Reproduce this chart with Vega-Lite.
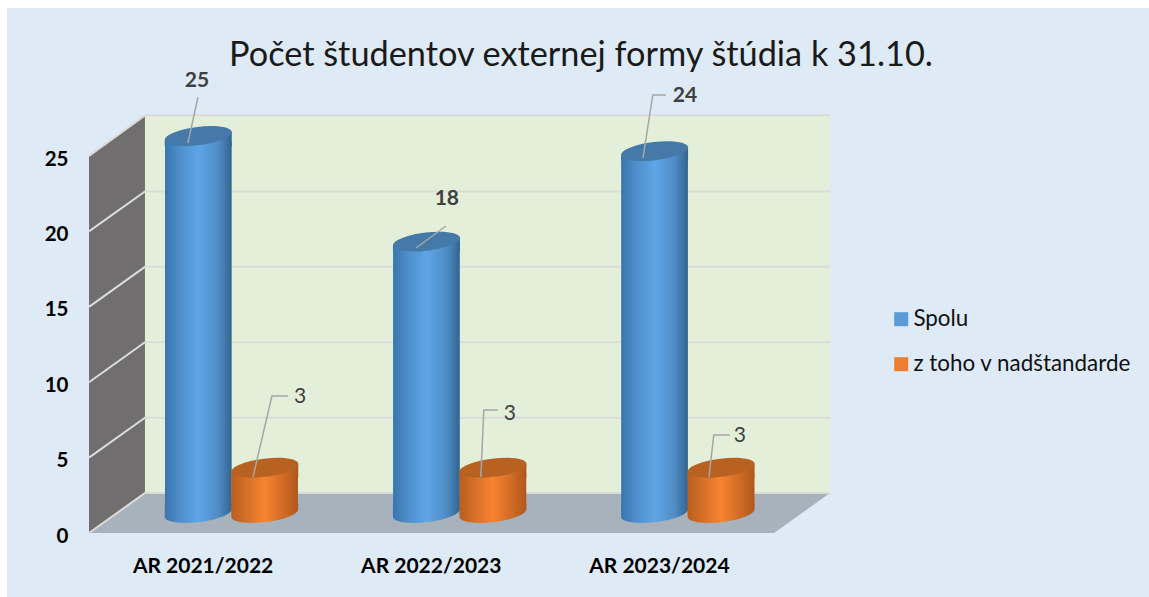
{
"$schema":"https://vega.github.io/schema/vega-lite/v6.json",
"width":1142,"height":589,
"autosize":{"type":"none"},
"padding":{"left":7,"top":8,"right":0,"bottom":0},
"background":"#ffffff",
"config":{"view":{"fill":"#deeaf6","stroke":null},"font":"Lato"},
"title":{"text":"Počet študentov externej formy štúdia k 31.10.","font":"Lato","fontSize":34.3,"fontWeight":"normal","color":"#1a1a1a","anchor":"start","frame":"group","dx":222,"offset":-65},
"datasets":{
"values":[
{"year":"AR 2021/2022","series":"Spolu","value":25},
{"year":"AR 2021/2022","series":"z toho v nadštandarde","value":3},
{"year":"AR 2022/2023","series":"Spolu","value":18},
{"year":"AR 2022/2023","series":"z toho v nadštandarde","value":3},
{"year":"AR 2023/2024","series":"Spolu","value":24},
{"year":"AR 2023/2024","series":"z toho v nadštandarde","value":3}],
"side":[{"u":0,"lo":0,"hi":25},{"u":0.245,"lo":2.65,"hi":27.7}],
"back":[{"u":0.245,"lo":2.65,"hi":27.7},{"u":3.245,"lo":2.65,"hi":27.7}],
"floor":[{"v":0,"a":0,"b":3},{"v":2.65,"a":0.245,"b":3.245}],
"grid":[
{"g":5,"u":0,"v":5},{"g":5,"u":0.245,"v":7.65},{"g":5,"u":3.245,"v":7.65},
{"g":10,"u":0,"v":10},{"g":10,"u":0.245,"v":12.65},{"g":10,"u":3.245,"v":12.65},
{"g":15,"u":0,"v":15},{"g":15,"u":0.245,"v":17.65},{"g":15,"u":3.245,"v":17.65},
{"g":20,"u":0,"v":20},{"g":20,"u":0.245,"v":22.65},{"g":20,"u":3.245,"v":22.65},
{"g":25,"u":0,"v":25},{"g":25,"u":0.245,"v":27.7},{"g":25,"u":3.245,"v":27.7},
{"g":0,"u":0,"v":0},{"g":0,"u":0.245,"v":2.65},{"g":0,"u":3.245,"v":2.65}],
"leaders":[
{"k":"a","o":1,"u":0.433,"v":25.86},{"k":"a","o":2,"u":0.477,"v":28.9},
{"k":"b","o":1,"u":0.718,"v":3.71},{"k":"b","o":2,"u":0.801,"v":9.08},{"k":"b","o":3,"u":0.871,"v":9.08},
{"k":"c","o":1,"u":1.432,"v":18.9},{"k":"c","o":2,"u":1.563,"v":20.36},
{"k":"d","o":1,"u":1.716,"v":3.71},{"k":"d","o":2,"u":1.729,"v":8.16},{"k":"d","o":3,"u":1.79,"v":8.16},
{"k":"e","o":1,"u":2.426,"v":24.87},{"k":"e","o":2,"u":2.469,"v":29.05},{"k":"e","o":3,"u":2.526,"v":29.05},
{"k":"f","o":1,"u":2.715,"v":3.71},{"k":"f","o":2,"u":2.736,"v":6.5},{"k":"f","o":3,"u":2.806,"v":6.5}],
"labelsTotal":[{"u":0.473,"v":30.04,"t":25},{"u":1.567,"v":22.2,"t":18},{"u":2.61,"v":29.05,"t":24}],
"labelsPart":[{"u":0.924,"v":9.08,"t":3},{"u":1.843,"v":7.96,"t":3},{"u":2.85,"v":6.5,"t":3}]
},
"resolve":{"scale":{"x":"independent"},"axis":{"x":"independent"}},
"layer":[
{"encoding":{
 "x":{"field":"u","type":"quantitative","scale":{"domain":[0,3.245],"range":[82,823],"nice":false,"zero":false},"axis":null},
 "y":{"field":"lo","type":"quantitative","scale":{"domain":[0,28],"range":[525,102.8],"nice":false,"zero":false},
   "axis":{"values":[0,5,10,15,20,25],"title":null,"domain":false,"ticks":false,"grid":false,"labelPadding":0,"offset":-61,"labelOffset":3,"labelFont":"Lato","labelFontSize":20.5,"labelFontWeight":"bold","labelColor":"#000000","zindex":1}}
 },
 "layer":[
 {"data":{"name":"back"},"mark":{"type":"area","color":"#e3efd9"},"encoding":{"y2":{"field":"hi"}}},
 {"data":{"name":"side"},"mark":{"type":"area","color":"#706e6e"},"encoding":{"y2":{"field":"hi"}}},
 {"data":{"name":"floor"},"mark":{"type":"area","orient":"horizontal","color":"#a8b2bc"},"encoding":{"y":{"field":"v","type":"quantitative"},"x":{"field":"a","type":"quantitative"},"x2":{"field":"b"}}},
 {"data":{"name":"grid"},"mark":{"type":"line","color":"#d9dcd9","strokeWidth":2,"interpolate":"linear"},"encoding":{"detail":{"field":"g"},"y":{"field":"v","type":"quantitative"}}}
 ]
},
{"data":{"name":"values"},
 "encoding":{
 "x":{"field":"year","type":"nominal","sort":null,"scale":{"range":[82,766.5],"paddingInner":0,"paddingOuter":0},
   "axis":{"title":null,"domain":false,"ticks":false,"grid":false,"labelAngle":0,"labelPadding":0,"offset":-31,"labelBaseline":"middle","labelFont":"Lato","labelFontSize":21,"labelFontWeight":"bold","labelColor":"#000000"}},
 "xOffset":{"field":"series","type":"nominal","sort":null,"scale":{"range":[76,209],"paddingInner":0,"paddingOuter":0}},
 "y":{"field":"value","type":"quantitative","stack":null}
 },
 "layer":[
 {"mark":{"type":"bar","yOffset":-14},
  "encoding":{"y2":{"datum":1.86},"color":{"field":"series","type":"nominal","scale":{"domain":["Spolu","z toho v nadštandarde"],"range":["#5b9bd5","#ed7d31"]},
   "legend":{"orient":"none","legendX":883,"legendY":300,"title":null,"symbolType":"square","symbolSize":196,"labelFont":"Lato","labelFontSize":22.4,"labelLimit":400,"labelColor":"#111111","rowPadding":22,"labelOffset":1,"symbolStrokeWidth":0}}}},
 {"transform":[{"filter":"datum.series==='Spolu'"}],"mark":{"type":"point","filled":true,"opacity":1,"size":4489,"yOffset":-20,"shape":"M -1 -0.3 L 1 -0.3 L 1 -0.12 A 1 0.27 -7 1 1 -1 0.12 Z","fill":{"gradient":"linear","x1":0,"x2":1,"y1":0,"y2":0,"stops":[{"offset":0,"color":"#3a75ad"},{"offset":0.2,"color":"#4d8cc8"},{"offset":0.5,"color":"#5fa5e6"},{"offset":0.8,"color":"#4f8dc6"},{"offset":1,"color":"#33648f"}]}},"encoding":{"y":{"datum":0}}},
 {"transform":[{"filter":"datum.series!=='Spolu'"}],"mark":{"type":"point","filled":true,"opacity":1,"size":4489,"yOffset":-20,"shape":"M -1 -0.3 L 1 -0.3 L 1 -0.12 A 1 0.27 -7 1 1 -1 0.12 Z","fill":{"gradient":"linear","x1":0,"x2":1,"y1":0,"y2":0,"stops":[{"offset":0,"color":"#b85f20"},{"offset":0.5,"color":"#f98330"},{"offset":1,"color":"#b0581c"}]}},"encoding":{"y":{"datum":0}}},
 {"transform":[{"filter":"datum.series==='Spolu'"}],"mark":{"type":"bar","yOffset":-14,"fill":{"gradient":"linear","x1":0,"x2":1,"y1":0,"y2":0,"stops":[{"offset":0,"color":"#3a75ad"},{"offset":0.2,"color":"#4d8cc8"},{"offset":0.5,"color":"#5fa5e6"},{"offset":0.8,"color":"#4f8dc6"},{"offset":1,"color":"#33648f"}]}},"encoding":{"y2":{"datum":1.86}}},
 {"transform":[{"filter":"datum.series!=='Spolu'"}],"mark":{"type":"bar","yOffset":-14,"fill":{"gradient":"linear","x1":0,"x2":1,"y1":0,"y2":0,"stops":[{"offset":0,"color":"#b85f20"},{"offset":0.5,"color":"#f98330"},{"offset":1,"color":"#b0581c"}]}},"encoding":{"y2":{"datum":1.86}}},
 {"transform":[{"filter":"datum.series==='Spolu'"}],"mark":{"type":"point","filled":true,"opacity":1,"size":4489,"yOffset":-20,"shape":"M -1 0.12 L 1 -0.12 L 1 0.3 L -1 0.3 Z","fill":{"gradient":"linear","x1":0,"x2":1,"y1":0,"y2":0,"stops":[{"offset":0,"color":"#3a75ad"},{"offset":0.2,"color":"#4d8cc8"},{"offset":0.5,"color":"#5fa5e6"},{"offset":0.8,"color":"#4f8dc6"},{"offset":1,"color":"#33648f"}]}}},
 {"transform":[{"filter":"datum.series!=='Spolu'"}],"mark":{"type":"point","filled":true,"opacity":1,"size":4489,"yOffset":-20,"shape":"M -1 0.12 L 1 -0.12 L 1 0.3 L -1 0.3 Z","fill":{"gradient":"linear","x1":0,"x2":1,"y1":0,"y2":0,"stops":[{"offset":0,"color":"#b85f20"},{"offset":0.5,"color":"#f98330"},{"offset":1,"color":"#b0581c"}]}}},
 {"transform":[{"filter":"datum.series==='Spolu'"}],"mark":{"type":"point","filled":true,"opacity":1,"size":4489,"yOffset":-20,"color":"#4579a8","shape":"M -1 0.12 A 1 0.27 -7 1 1 1 -0.12 A 1 0.27 -7 1 1 -1 0.12 Z"}},
 {"transform":[{"filter":"datum.series!=='Spolu'"}],"mark":{"type":"point","filled":true,"opacity":1,"size":4489,"yOffset":-20,"color":"#b86222","shape":"M -1 0.12 A 1 0.27 -7 1 1 1 -0.12 A 1 0.27 -7 1 1 -1 0.12 Z"}}
 ]
},
{"encoding":{
 "x":{"field":"u","type":"quantitative","scale":{"domain":[0,3.245],"range":[82,823],"nice":false,"zero":false},"axis":null},
 "y":{"field":"v","type":"quantitative"}
 },
 "layer":[
 {"data":{"name":"leaders"},"mark":{"type":"line","color":"#a6a6a6","strokeWidth":1.5},"encoding":{"detail":{"field":"k"},"order":{"field":"o"}}},
 {"data":{"name":"labelsTotal"},"mark":{"type":"text","font":"Lato","fontSize":21,"fontWeight":"bold","color":"#404040","dy":1},"encoding":{"text":{"field":"t","type":"quantitative"}}},
 {"data":{"name":"labelsPart"},"mark":{"type":"text","font":"Lato","fontSize":21,"color":"#404040","dy":1},"encoding":{"text":{"field":"t","type":"quantitative"}}}
 ]
}
]
}
